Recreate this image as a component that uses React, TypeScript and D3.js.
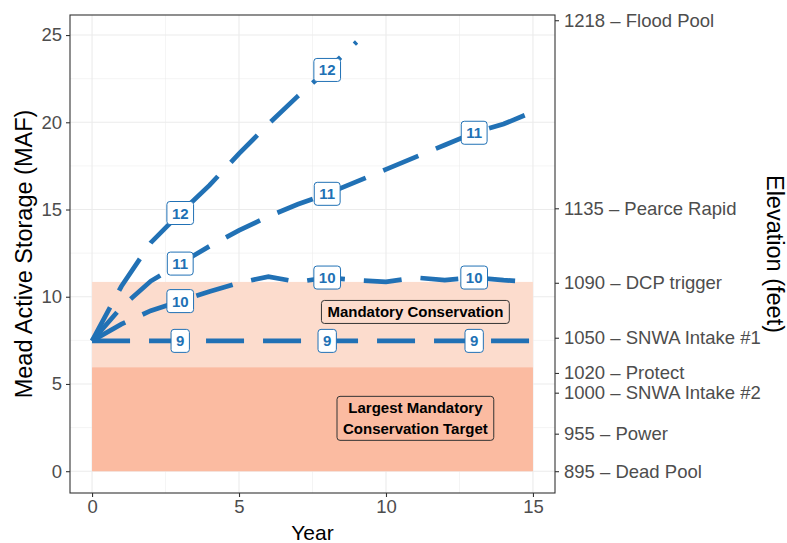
import React, { useRef, useEffect } from "react";
import * as d3 from "d3";

// Years of simulation
const years = [0, 1, 2, 3, 4, 5, 6, 7, 8, 9, 10, 11, 12, 13, 14, 15];

// Storage trajectories (MAF) by scenario
const storage12 = [7.47, 10.6, 13.1, 14.8, 16.4, 18.2, 19.9, 21.5, 23.0, 24.6];
const storage11 = [7.47, 9.4, 10.9, 11.9, 12.9, 13.8, 14.6, 15.3, 15.9, 16.6, 17.3, 18.0, 18.7, 19.4, 19.9, 20.6];
const storage10 = [7.47, 8.43, 9.2, 9.75, 10.3, 10.8, 11.15, 10.85, 11.1, 10.95, 10.85, 11.1, 10.95, 11.1, 10.95, 10.85];
const storage9 = [7.47, 7.47, 7.47, 7.47, 7.47, 7.47, 7.47, 7.47, 7.47, 7.47, 7.47, 7.47, 7.47, 7.47, 7.47, 7.47];

const seriesNames = ["12", "11", "10", "9"];
const seriesValues = [storage12, storage11, storage10, storage9];
const labelYears = [3, 8, 13];

// Right axis: elevation levels and matching storage
const elevLabels = [
  "1218 – Flood Pool",
  "1135 – Pearce Rapid",
  "1090 – DCP trigger",
  "1050 – SNWA Intake #1",
  "1020 – Protect",
  "1000 – SNWA Intake #2",
  "955 – Power",
  "895 – Dead Pool",
];
const elevStorage = [25.85, 15.07, 10.8, 7.65, 5.63, 4.5, 2.15, 0];

// Conservation zones
const zoneTop = [10.85, 5.95];
const zoneFill = ["#fcdccd", "#fbbba1"];
const zoneText = [["Mandatory Conservation"], ["Largest Mandatory", "Conservation Target"]];
const zoneLabelAt = [[11, 9.1], [11, 3.0]];

function App() {
  const chartRef = useRef(null);

  useEffect(() => {
    document.body.style.margin = "0";
    const svg = d3.select(chartRef.current);
    svg.selectAll("*").remove();

    const margin = { top: 15, right: 232, bottom: 50, left: 70 };
    const width = 787 - margin.left - margin.right;
    const height = 543 - margin.top - margin.bottom;
    const font = "'Liberation Sans', Arial, Helvetica, sans-serif";
    const blue = "#2171b5";

    const x = d3.scaleLinear().domain([-0.75, 15.75]).range([0, width]);
    const y = d3.scaleLinear().domain([-1.25, 26.15]).range([height, 0]);

    const g = svg
      .append("g")
      .attr("transform", `translate(${margin.left},${margin.top})`)
      .style("font-family", font);

    // Grid
    const minorX = [2.5, 7.5, 12.5];
    const majorX = [0, 5, 10, 15];
    const minorY = [2.5, 7.5, 12.5, 17.5, 22.5];
    const majorY = [0, 5, 10, 15, 20, 25];
    g.selectAll(".gx").data(minorX.concat(majorX)).enter().append("line")
      .attr("x1", (d) => x(d)).attr("x2", (d) => x(d)).attr("y1", 0).attr("y2", height)
      .attr("stroke", "#ebebeb").attr("stroke-width", (d) => (majorX.includes(d) ? 1.1 : 0.55));
    g.selectAll(".gy").data(minorY.concat(majorY)).enter().append("line")
      .attr("y1", (d) => y(d)).attr("y2", (d) => y(d)).attr("x1", 0).attr("x2", width)
      .attr("stroke", "#ebebeb").attr("stroke-width", (d) => (majorY.includes(d) ? 1.1 : 0.55));

    // Zones
    zoneTop.forEach((top, i) => {
      g.append("rect")
        .attr("x", x(0)).attr("width", x(15) - x(0))
        .attr("y", y(top)).attr("height", y(0) - y(top))
        .attr("fill", zoneFill[i]);
    });

    // Zone labels
    zoneText.forEach((lines, i) => {
      const [lx, ly] = zoneLabelAt[i];
      const lg = g.append("g").attr("transform", `translate(${x(lx)},${y(ly)})`);
      const lh = 21;
      const t = lg.append("text")
        .attr("text-anchor", "middle")
        .attr("font-size", 15).attr("font-weight", "bold").attr("fill", "#000");
      lines.forEach((line, j) => {
        t.append("tspan").attr("x", 0)
          .attr("y", (j - (lines.length - 1) / 2) * lh + 5)
          .text(line);
      });
      const bb = t.node().getBBox();
      lg.insert("rect", "text")
        .attr("x", bb.x - 6).attr("y", bb.y - 3)
        .attr("width", bb.width + 12).attr("height", bb.height + 6)
        .attr("rx", 3).attr("fill", "none").attr("stroke", "#333").attr("stroke-width", 1);
    });

    // Lines
    const line = d3.line().x((_, i) => x(years[i])).y((d) => y(d));
    seriesValues.forEach((vals) => {
      g.append("path")
        .datum(vals)
        .attr("fill", "none")
        .attr("stroke", blue)
        .attr("stroke-width", 4.7)
        .attr("stroke-dasharray", "38,19")
        .attr("d", line);
    });

    // Line labels
    seriesValues.forEach((vals, si) => {
      labelYears.filter((yr) => yr < vals.length).forEach((yr) => {
        const lg = g.append("g").attr("transform", `translate(${x(yr)},${y(vals[yr])})`);
        const t = lg.append("text")
          .attr("text-anchor", "middle").attr("y", 5.5)
          .attr("font-size", 15).attr("font-weight", "bold").attr("fill", blue)
          .text(seriesNames[si]);
        const bb = t.node().getBBox();
        lg.insert("rect", "text")
          .attr("x", bb.x - 5).attr("y", -11.5)
          .attr("width", bb.width + 10).attr("height", 23)
          .attr("rx", 3).attr("fill", "#fff").attr("stroke", blue).attr("stroke-width", 1);
      });
    });

    // Panel border
    g.append("rect").attr("width", width).attr("height", height)
      .attr("fill", "none").attr("stroke", "#333333").attr("stroke-width", 1.1);

    // Axes
    const styleAxis = (sel) => {
      sel.select(".domain").remove();
      sel.selectAll(".tick line").attr("stroke", "#333333").attr("stroke-width", 1.1);
      sel.selectAll(".tick text").attr("fill", "#4d4d4d").attr("font-size", 18.5).attr("font-family", font);
    };
    g.append("g").attr("transform", `translate(0,${height})`)
      .call(d3.axisBottom(x).tickValues(majorX).tickSize(4).tickPadding(3))
      .call(styleAxis);
    g.append("g")
      .call(d3.axisLeft(y).tickValues(majorY).tickSize(4).tickPadding(4))
      .call(styleAxis);
    g.append("g").attr("transform", `translate(${width},0)`)
      .call(d3.axisRight(y).tickValues(elevStorage).tickSize(4).tickPadding(5)
        .tickFormat((_, i) => elevLabels[i]))
      .call(styleAxis);

    // Axis titles
    g.append("text").attr("x", width / 2).attr("y", height + 47)
      .attr("text-anchor", "middle").attr("font-size", 21).attr("fill", "#000").text("Year");
    g.append("text")
      .attr("transform", `translate(${-38},${height / 2}) rotate(-90)`)
      .attr("text-anchor", "middle").attr("font-size", 23.5).attr("fill", "#000")
      .text("Mead Active Storage (MAF)");
    g.append("text")
      .attr("transform", `translate(${width + 212},${height / 2}) rotate(90)`)
      .attr("text-anchor", "middle").attr("font-size", 23.5).attr("fill", "#000")
      .text("Elevation (feet)");
  }, []);

  return <svg ref={chartRef} width={787} height={543} style={{ display: "block" }}></svg>;
}

export default App;
